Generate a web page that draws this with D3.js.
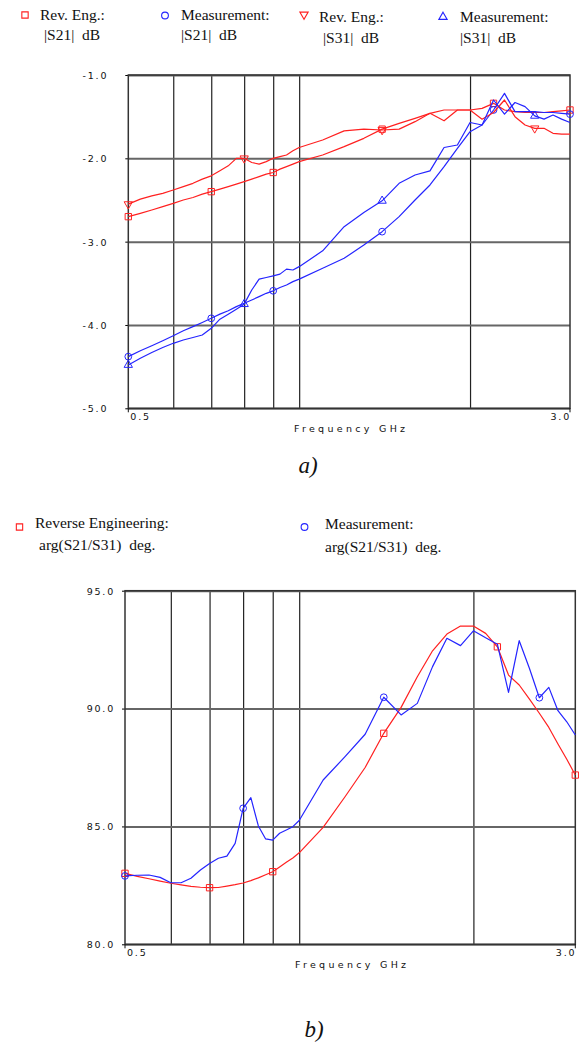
<!DOCTYPE html>
<html lang="en">
<head>
<meta charset="UTF-8">
<title>S21 / S31 comparison</title>
<script src="https://cdn.jsdelivr.net/npm/d3@7"></script>
<style>
    body { margin: 0; background: #fff; }
    svg { display: block; }
    .tick text, .lbl { font-family: "DejaVu Sans", sans-serif; font-size: 9.5px; fill: #111; letter-spacing: 1.8px; }
    .xtitle { font-family: "DejaVu Sans", sans-serif; font-size: 9.5px; fill: #111; letter-spacing: 3.3px; }
    .leg { font-family: "Liberation Serif", "Times New Roman", serif; font-size: 15.5px; fill: #111; white-space: pre; }
    .cap { font-family: "Liberation Serif", serif; font-style: italic; font-size: 23px; fill: #111; }
</style>
</head>
<body>
<script>
    // frequency points (GHz), shared by all curves
    var freqs = [0.5, 0.525, 0.55, 0.575, 0.6, 0.625, 0.65, 0.675, 0.7, 0.725, 0.75,
        0.775, 0.8, 0.825, 0.85, 0.875, 0.9, 0.925, 0.95, 0.975, 1.0,
        1.1, 1.2, 1.3, 1.4, 1.5, 1.6, 1.7, 1.8, 1.9, 2.0,
        2.1, 2.2, 2.3, 2.4, 2.5, 2.6, 2.7, 2.8, 2.9, 3.0];

    // chart a) magnitudes in dB
    var revS21 = [-2.70, -2.66, -2.62, -2.58, -2.54, -2.50, -2.47, -2.43, -2.40, -2.37, -2.34,
        -2.31, -2.28, -2.25, -2.22, -2.19, -2.17, -2.13, -2.10, -2.07, -2.04,
        -1.96, -1.86, -1.76, -1.65, -1.58, -1.52, -1.46, -1.42, -1.42, -1.42,
        -1.40, -1.34, -1.42, -1.44, -1.45, -1.45, -1.45, -1.44, -1.43, -1.42];
    var measS21 = [-4.38, -4.31, -4.25, -4.19, -4.13, -4.07, -4.02, -3.97, -3.92, -3.87, -3.83,
        -3.78, -3.74, -3.70, -3.66, -3.62, -3.59, -3.55, -3.52, -3.48, -3.45,
        -3.32, -3.20, -3.04, -2.88, -2.70, -2.50, -2.32, -2.10, -1.88, -1.68,
        -1.60, -1.42, -1.22, -1.44, -1.44, -1.44, -1.45, -1.45, -1.46, -1.47];
    var revS31 = [-2.55, -2.49, -2.45, -2.42, -2.38, -2.34, -2.30, -2.25, -2.21, -2.15, -2.09,
        -2.00, -2.00, -2.05, -2.07, -2.04, -2.00, -1.98, -1.96, -1.91, -1.87,
        -1.78, -1.67, -1.65, -1.66, -1.65, -1.56, -1.46, -1.55, -1.42, -1.42,
        -1.53, -1.45, -1.30, -1.50, -1.60, -1.64, -1.64, -1.70, -1.71, -1.71];
    var measS31 = [-4.48, -4.40, -4.33, -4.27, -4.22, -4.18, -4.15, -4.12, -4.04, -3.93, -3.87,
        -3.81, -3.75, -3.58, -3.45, -3.43, -3.41, -3.39, -3.33, -3.34, -3.30,
        -3.11, -2.82, -2.65, -2.51, -2.30, -2.20, -2.15, -1.87, -1.84, -1.57,
        -1.60, -1.30, -1.47, -1.33, -1.38, -1.49, -1.53, -1.48, -1.53, -1.57];

    // chart b) phase difference in degrees
    var revArg = [83.01, 82.88, 82.78, 82.68, 82.59, 82.52, 82.46, 82.42, 82.40, 82.41, 82.47,
        82.53, 82.60, 82.70, 82.82, 82.95, 83.08, 83.28, 83.48, 83.66, 83.88,
        84.96, 86.26, 87.50, 88.95, 90.05, 91.35, 92.45, 93.16, 93.50, 93.50,
        93.19, 92.62, 91.42, 91.00, 90.40, 89.80, 89.20, 88.50, 87.85, 87.18];
    var measArg = [82.90, 82.93, 82.94, 82.84, 82.61, 82.61, 82.80, 83.15, 83.43, 83.65, 83.74,
        84.28, 85.77, 86.22, 85.02, 84.47, 84.42, 84.71, 84.85, 84.99, 85.25,
        86.97, 87.96, 88.91, 90.48, 89.73, 90.22, 91.78, 92.98, 92.67, 93.30,
        93.00, 92.73, 90.69, 92.88, 91.70, 90.46, 90.90, 89.91, 89.44, 88.88];

    // where the marker symbols sit
    var marksEvery6 = [0.5, 0.7, 0.9, 1.4, 2.2, 3.0];
    var marksEvery4 = [0.5, 0.8, 1.4, 2.6];

    var gridFreqs = [0.6, 0.7, 0.8, 0.9, 1.0, 2.0];
    var yTicksA = [-5, -4, -3, -2, -1];
    var yTicksB = [80, 85, 90, 95];

    var RED = "#ff2020", BLUE = "#2424ff";

    var svg = d3.select("body").append("svg")
        .attr("width", 581)
        .attr("height", 1043);

    function symbolPath(kind) {
        var t = kind === "circle" ? d3.symbolCircle
            : kind === "square" ? d3.symbolSquare : d3.symbolTriangle;
        var size = kind === "circle" ? 36 : kind === "square" ? 40 : 30;
        return d3.symbol().type(t).size(size)();
    }

    function drawChart(o) {
        var g = svg.append("g").attr("transform", "translate(" + o.left + "," + o.top + ")");
        var x = d3.scaleLog().domain([0.5, 3]).range([0, o.w]);
        var y = d3.scaleLinear().domain(o.yDomain).range([o.h, 0]);

        // vertical grid lines
        var vg = g.append("g")
            .attr("transform", "translate(0," + o.h + ")")
            .call(d3.axisBottom(x).tickValues(gridFreqs).tickSize(o.h).tickFormat(""));
        vg.select(".domain").remove();
        vg.selectAll("line").attr("y2", -o.h).attr("stroke", "#222").attr("stroke-width", 1.2);

        // horizontal grid lines + y labels
        var hg = g.append("g")
            .call(d3.axisLeft(y).tickValues(o.yTicks).tickSize(-o.w).tickPadding(o.pad)
                .tickFormat(function (d) { return d.toFixed(1).replace("\u2212", "-"); }));
        hg.select(".domain").remove();
        hg.selectAll("line").attr("stroke", "#666").attr("stroke-width", 2);
        hg.selectAll("text").attr("dy", "0.36em");

        // short outward ticks
        g.append("g")
            .call(d3.axisLeft(y).tickValues(o.yTicks).tickSize(3).tickFormat(""))
            .select(".domain").remove();

        // frame
        g.append("rect")
            .attr("width", o.w)
            .attr("height", o.h)
            .attr("fill", "none")
            .attr("stroke", "#333")
            .attr("stroke-width", 1.5);
        g.append("line").attr("x1", 0).attr("x2", 0).attr("y1", o.h).attr("y2", o.h + 4)
            .attr("stroke", "#111");
        g.append("line").attr("x1", o.w).attr("x2", o.w).attr("y1", o.h).attr("y2", o.h + 4)
            .attr("stroke", "#111");

        // x labels
        g.append("text").attr("class", "lbl").attr("x", x(0.5) + 2).attr("y", o.h + 12).text("0.5");
        g.append("text").attr("class", "lbl").attr("x", x(3.0) + 1).attr("y", o.h + 12)
            .attr("text-anchor", "end").text("3.0");
        g.append("text").attr("class", "xtitle").attr("x", o.w / 2 + 2).attr("y", o.h + 24)
            .attr("text-anchor", "middle").text("Frequency GHz");

        var line = d3.line()
            .x(function (d) { return x(d[0]); })
            .y(function (d) { return y(d[1]); });

        o.series.forEach(function (s) {
            var pts = freqs.map(function (f, i) { return [f, s.values[i]]; });
            g.append("path")
                .attr("d", line(pts))
                .attr("fill", "none")
                .attr("stroke", s.color)
                .attr("stroke-width", 1.2)
                .attr("stroke-linejoin", "round");

            var mk = pts.filter(function (p) { return s.marks.indexOf(p[0]) >= 0; });
            g.selectAll(null)
                .data(mk)
                .enter()
                .append("path")
                .attr("d", symbolPath(s.symbol))
                .attr("transform", function (d) {
                    return "translate(" + x(d[0]) + "," + y(d[1]) + ")" + (s.down ? " rotate(180)" : "");
                })
                .attr("fill", "none")
                .attr("stroke", s.color)
                .attr("stroke-width", 1);
        });
    }

    function legendItem(px, py, kind, down, color, lines) {
        svg.append("path")
            .attr("d", symbolPath(kind))
            .attr("transform", "translate(" + px + "," + py + ")" + (down ? " rotate(180)" : ""))
            .attr("fill", "none")
            .attr("stroke", color)
            .attr("stroke-width", 1.1);
        lines.forEach(function (l) {
            svg.append("text").attr("class", "leg").attr("x", l[0]).attr("y", l[1]).text(l[2]);
        });
    }

    // chart a)
    legendItem(25, 15, "square", false, RED, [[40, 20, "Rev. Eng.:"], [44, 40, "|S21|  dB"]]);
    legendItem(165, 15.5, "circle", false, BLUE, [[181, 19.5, "Measurement:"], [181, 40, "|S21|  dB"]]);
    legendItem(304, 14.5, "triangle", true, RED, [[319, 22, "Rev. Eng.:"], [323, 42.5, "|S31|  dB"]]);
    legendItem(443, 17, "triangle", false, BLUE, [[460, 22, "Measurement:"], [460, 42.5, "|S31|  dB"]]);

    drawChart({
        left: 128.3, top: 75, w: 441.7, h: 333.3,
        yDomain: [-5, -1], yTicks: yTicksA, pad: 20,
        series: [
            {values: revS21, color: RED, symbol: "square", marks: marksEvery6},
            {values: measS21, color: BLUE, symbol: "circle", marks: marksEvery6},
            {values: revS31, color: RED, symbol: "triangle", down: true, marks: marksEvery4},
            {values: measS31, color: BLUE, symbol: "triangle", marks: marksEvery4}
        ]
    });

    svg.append("text").attr("class", "cap").attr("x", 308).attr("y", 473)
        .attr("text-anchor", "middle").text("a)");

    // chart b)
    legendItem(19.5, 527, "square", false, RED,
        [[35, 528, "Reverse Engineering:"], [39, 550, "arg(S21/S31)  deg."]]);
    legendItem(304.5, 527, "circle", false, BLUE,
        [[325, 529, "Measurement:"], [325, 552, "arg(S21/S31)  deg."]]);

    drawChart({
        left: 125, top: 590.7, w: 450.3, h: 353.6,
        yDomain: [80, 95], yTicks: yTicksB, pad: 10,
        series: [
            {values: revArg, color: RED, symbol: "square", marks: marksEvery6},
            {values: measArg, color: BLUE, symbol: "circle", marks: marksEvery4}
        ]
    });

    svg.append("text").attr("class", "cap").attr("x", 314).attr("y", 1037)
        .attr("text-anchor", "middle").text("b)");
</script>
</body>
</html>
